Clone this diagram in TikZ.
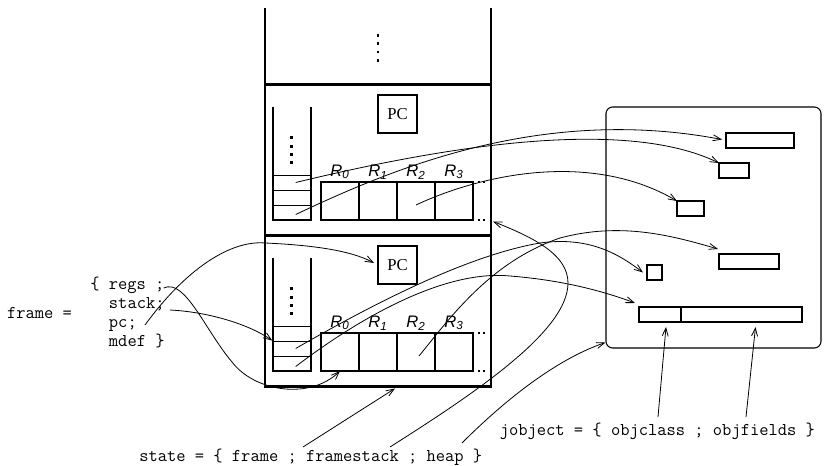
\documentclass[tikz,border=0pt]{standalone}
\usepackage{fontspec}
\setmainfont{Liberation Serif}
\setsansfont{Liberation Sans}
\usepackage{tikz}
\usetikzlibrary{arrows.meta,positioning,calc}
\tikzset{
  >={Straight Barb[length=6pt,width=4.5pt]},
  code/.style={font=\ttfamily\fontsize{13.5}{16}\selectfont,inner sep=0pt,anchor=base west},
  frm/.style={draw,line width=1.8pt,inner sep=0pt,outer sep=0pt,minimum width=169.5pt,minimum height=113.25pt},
  wall/.style={line width=1.8pt},
  stk/.style={line width=1.5pt},
  slotbox/.style={draw,line width=0.6pt,inner sep=0pt,minimum width=28.5pt,minimum height=11.25pt},
  pcbox/.style={draw,line width=1.5pt,inner sep=0pt,minimum width=29.25pt,minimum height=28.5pt,font=\fontsize{12.5}{14}\selectfont},
  regbox/.style={draw,line width=1.5pt,inner sep=0pt,outer sep=0pt,minimum size=28.5pt},
  reglab/.style={font=\sffamily\itshape\fontsize{12.5}{14}\selectfont,inner sep=0pt},
  heapbox/.style={draw,line width=0.8pt,rounded corners=5pt,inner sep=0pt,minimum width=161.25pt,minimum height=180.75pt},
  objbox/.style={draw,line width=0.8pt,inner sep=0pt,outer sep=0pt,minimum height=11.25pt},
  vdots/.style={line width=1.9pt,dash pattern=on 2.2pt off 4pt},
  hdots/.style={line width=1.5pt,dash pattern=on 1.5pt off 2.6pt},
  ptr/.style={->,line width=0.6pt}
}
\newcommand{\regname}[1]{R\textsubscript{#1}}

\begin{document}
\begin{tikzpicture}[x=0.75pt,y=-0.75pt]
  \useasboundingbox (0,0) rectangle (826,466);

  % the two frames of the frame stack
  \foreach \f/\dy in {1/0,2/151}{
    \begin{scope}[shift={(0,\dy)}]
      \node[frm] (frm\f) at (378,160) {};
      \node[slotbox] (slota\f) at (291.7,182.5) {};
      \node[slotbox] (slotb\f) at (291.7,197.5) {};
      \node[slotbox] (slotc\f) at (291.7,212.5) {};
      \draw[stk] (272.7,107) |- (310.7,220) -- (310.7,107);
      \draw[vdots] (291.7,136.5) -- (291.7,164);
      \node[pcbox] (pc\f) at (397.5,114) {PC};
      \node[regbox] (reg\f0) at (340,201) {};
      \foreach \i [remember=\i as \prev (initially 0)] in {1,2,3}
        \node[regbox,right=0pt of reg\f\prev] (reg\f\i) {};
      \foreach \i in {0,...,3}
        \node[reglab,above=2pt of reg\f\i] (rlab\f\i) {\regname{\i}};
      \draw[hdots] ($(reg\f3.north east)+(5,0)$) -- +(9,0);
      \draw[hdots] ($(reg\f3.south east)+(5,0)$) -- +(9,0);
    \end{scope}
  }
  \draw[wall] (frm1.north west) -- ++(0,-76);
  \draw[wall] (frm1.north east) -- ++(0,-76);
  \draw[vdots] (378,34) -- (378,62.5);

  % heap
  \node[heapbox] (heap) at (713.5,227.5) {};
  \node[objbox,minimum width=51pt] (objA) at (760,140.5) {};
  \node[objbox,minimum width=22.5pt] (objB) at (734,170.5) {};
  \node[objbox,minimum width=20.25pt] (objC) at (690.5,208.5) {};
  \node[objbox,minimum width=45pt] (objD) at (749,261.5) {};
  \node[objbox,minimum width=11.25pt] (objE) at (654.5,272.5) {};
  \node[objbox,minimum width=31.5pt] (objcls) at (660,314.5) {};
  \node[objbox,minimum width=90.75pt,right=0pt of objcls] (objflds) {};

  % record definitions
  \node[code] (framelbl) at (6.8,319) {frame =};
  \node[code] (fregs) at (90,290) {\{ regs ;};
  \node[code] (fstack) at (108.7,309) {stack;};
  \node[code] (fpc) at (108.7,328) {pc;};
  \node[code] (fmdef) at (108.7,347) {mdef \}};
  \node[code] (statedef) at (139,462) {state = \{ frame ; framestack ; heap \}};
  \node[code] (jobjdef) at (499.5,436) {jobject = \{ objclass ; objfields \}};

  % frame fields
  \draw[ptr] ($(fregs.base east)+(-1,-2)$) .. controls (185,278) and (205,330) .. (232,362)
    .. controls (255,392) and (310,400) .. (reg20.south);
  \draw[ptr] ($(fstack.base east)+(5,1)$) .. controls (210,312) and (250,325) .. (slotb2.north west);
  \draw[ptr] ($(fpc.base east)+(8,-3)$) .. controls (185,270) and (230,240) .. (265,243)
    .. controls (310,245) and (350,250) .. ($(pc2.west)+(-3,-2)$);

  % references into the heap
  \draw[ptr] ($(slota1)+(4,0)$) .. controls (430,150) and (620,115) .. (objB.north west);
  \draw[ptr] ($(slotc1)+(4,2)$) .. controls (390,170) and (540,105) .. ($(objA.west)+(-4,-1)$);
  \draw[ptr] ($(reg12)+(0,4)$) .. controls (480,175) and (590,150) .. (objC.north west);
  \draw[ptr] ($(slotb2)+(4,0)$) .. controls (380,300) and (470,255) .. (540,243)
    .. controls (590,236) and (620,255) .. ($(objE.west)+(-4,0)$);
  \draw[ptr] ($(slotc2)+(4,3)$) .. controls (370,310) and (450,270) .. (510,276)
    .. controls (560,280) and (600,290) .. ($(objcls.north west)+(-4,-4)$);
  \draw[ptr] ($(reg22)+(3,4)$) .. controls (450,318) and (490,262) .. (560,238)
    .. controls (620,222) and (670,235) .. ($(objD.north west)+(-1,-5)$);

  % state fields
  \draw[ptr] ($(statedef.base west)+(164,-15)$) -- ($(frm2.south)+(17,2)$);
  \draw[ptr] ($(statedef.base west)+(251,-15)$) .. controls (480,390) and (568,330) .. (568,283)
    .. controls (568,255) and (535,238) .. ($(frm1.south east)+(2,-14)$);
  \draw[ptr] ($(statedef.base west)+(323,-19)$) .. controls (510,395) and (560,358) .. ($(heap.south west)+(0,-6)$);

  % jobject fields
  \draw[ptr] ($(jobjdef.base west)+(158.5,-19)$) -- ($(objcls.south)+(6,5)$);
  \draw[ptr] ($(jobjdef.base west)+(246.5,-19)$) -- ($(objflds.south)+(14,5)$);
\end{tikzpicture}
\end{document}
